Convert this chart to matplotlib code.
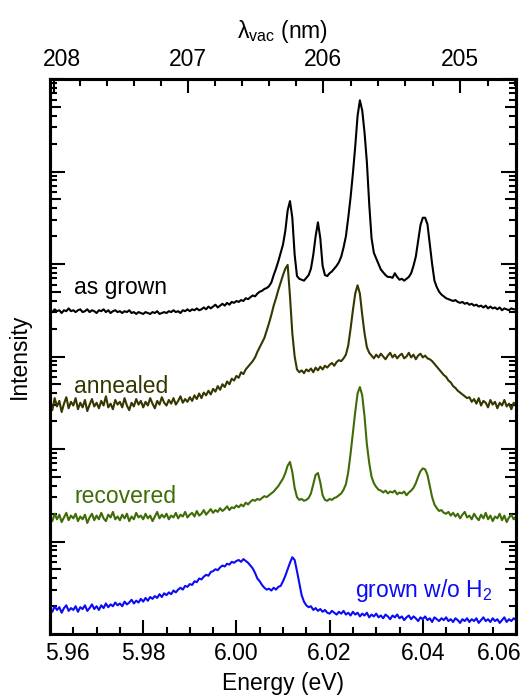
import numpy as np
import matplotlib
matplotlib.use("Agg")
import matplotlib.pyplot as plt
import matplotlib.transforms as mtransforms
from matplotlib.ticker import (FixedLocator, LogLocator, MultipleLocator,
                               NullFormatter, NullLocator)

plt.rcParams['font.family'] = ['Liberation Sans', 'DejaVu Sans']
plt.rcParams['font.size'] = 16.5
plt.rcParams['mathtext.fontset'] = 'custom'
plt.rcParams['mathtext.rm'] = 'Liberation Sans'

# energy grid of the spectra (eV)
energy = np.round(np.linspace(5.960, 6.060, 201), 4)

# log10 of the intensity (spectra are offset by decades)
as_grown = [
    3.50, 3.48, 3.51, 3.49, 3.50, 3.47, 3.50, 3.49, 3.52, 3.49,
    3.50, 3.48, 3.50, 3.51, 3.48, 3.49, 3.51, 3.48, 3.50, 3.49,
    3.47, 3.50, 3.49, 3.51, 3.48, 3.50, 3.47, 3.49, 3.50, 3.48,
    3.49, 3.47, 3.49, 3.48, 3.50, 3.47, 3.48, 3.46, 3.48, 3.47,
    3.46, 3.48, 3.47, 3.46, 3.48, 3.47, 3.49, 3.46, 3.47, 3.48,
    3.47, 3.49, 3.48, 3.50, 3.48, 3.49, 3.47, 3.50, 3.49, 3.51,
    3.49, 3.51, 3.50, 3.52, 3.50, 3.51, 3.53, 3.51, 3.54, 3.52,
    3.54, 3.56, 3.53, 3.55, 3.57, 3.55, 3.58, 3.56, 3.59, 3.58,
    3.60, 3.59, 3.61, 3.60, 3.63, 3.62, 3.64, 3.66, 3.65, 3.68,
    3.70, 3.71, 3.73, 3.74, 3.76, 3.80, 3.88, 3.95, 4.03, 4.12,
    4.21, 4.36, 4.58, 4.68, 4.50, 4.10, 3.87, 3.84, 3.83, 3.82,
    3.85, 3.88, 3.95, 4.10, 4.30, 4.45, 4.28, 3.98, 3.88, 3.87,
    3.90, 3.92, 3.95, 3.98, 4.02, 4.08, 4.18, 4.30, 4.50, 4.72,
    4.98, 5.27, 5.60, 5.77, 5.66, 5.42, 5.10, 4.65, 4.28, 4.12,
    4.06, 4.00, 3.94, 3.91, 3.88, 3.86, 3.86, 3.85, 3.90, 3.86,
    3.83, 3.84, 3.82, 3.84, 3.86, 3.90, 3.98, 4.08, 4.25, 4.42,
    4.50, 4.50, 4.43, 4.22, 4.00, 3.82, 3.75, 3.70, 3.67, 3.65,
    3.63, 3.62, 3.61, 3.60, 3.61, 3.59, 3.58, 3.59, 3.57, 3.58,
    3.56, 3.57, 3.55, 3.56, 3.54, 3.55, 3.53, 3.55, 3.52, 3.54,
    3.52, 3.53, 3.51, 3.53, 3.50, 3.52, 3.51, 3.50, 3.52, 3.51,
    3.51,
]

annealed = [
    2.50, 2.42, 2.55, 2.46, 2.52, 2.40, 2.49, 2.56, 2.44, 2.51,
    2.47, 2.55, 2.43, 2.50, 2.45, 2.53, 2.41, 2.48, 2.54, 2.46,
    2.50, 2.44, 2.52, 2.47, 2.57, 2.45, 2.49, 2.43, 2.53, 2.48,
    2.51, 2.45, 2.55, 2.47, 2.42, 2.50, 2.46, 2.54, 2.48, 2.52,
    2.45, 2.51, 2.47, 2.55, 2.49, 2.44, 2.52, 2.48, 2.56, 2.50,
    2.47, 2.53, 2.49, 2.55, 2.48, 2.52, 2.57, 2.50, 2.54, 2.51,
    2.56, 2.52, 2.58, 2.54, 2.60, 2.55, 2.61, 2.58, 2.63, 2.59,
    2.65, 2.62, 2.68, 2.64, 2.70, 2.67, 2.73, 2.70, 2.76, 2.74,
    2.79, 2.77, 2.83, 2.81, 2.86, 2.89, 2.92, 2.95, 2.99, 3.05,
    3.10, 3.15, 3.20, 3.28, 3.36, 3.45, 3.55, 3.63, 3.72, 3.80,
    3.88, 3.95, 3.99, 3.65, 3.25, 3.00, 2.86, 2.83, 2.85, 2.82,
    2.86, 2.84, 2.87, 2.83, 2.88, 2.85, 2.89, 2.86, 2.90, 2.88,
    2.91, 2.93, 2.90, 2.94, 2.96, 2.95, 2.98, 3.02, 3.12, 3.30,
    3.50, 3.68, 3.77, 3.68, 3.45, 3.25, 3.10, 3.04, 3.01, 2.98,
    3.02, 2.99, 3.03, 3.00, 2.97, 3.01, 3.04, 2.99, 3.02, 2.98,
    3.01, 3.03, 2.98, 3.00, 3.04, 2.99, 3.02, 2.97, 3.01, 3.03,
    2.99, 3.01, 2.98, 2.97, 2.95, 2.92, 2.89, 2.86, 2.83, 2.80,
    2.78, 2.74, 2.72, 2.68, 2.66, 2.63, 2.61, 2.59, 2.57, 2.55,
    2.56, 2.51, 2.54, 2.49, 2.55, 2.47, 2.52, 2.50, 2.45, 2.53,
    2.48, 2.51, 2.44, 2.50, 2.47, 2.53, 2.46, 2.49, 2.43, 2.50,
    2.47,
]

recovered = [
    1.27, 1.22, 1.30, 1.24, 1.29, 1.21, 1.26, 1.31, 1.23, 1.28,
    1.25, 1.30, 1.22, 1.27, 1.24, 1.29, 1.20, 1.26, 1.30, 1.23,
    1.28, 1.24, 1.31, 1.25, 1.22, 1.29, 1.26, 1.32, 1.24, 1.27,
    1.23, 1.29, 1.25, 1.30, 1.22, 1.27, 1.24, 1.31, 1.26, 1.28,
    1.24, 1.30, 1.25, 1.28, 1.22, 1.27, 1.32, 1.25, 1.29, 1.26,
    1.30, 1.24, 1.28, 1.26, 1.31, 1.25, 1.29, 1.27, 1.32, 1.26,
    1.29, 1.31, 1.27, 1.33, 1.28, 1.30, 1.34, 1.29, 1.32, 1.35,
    1.31, 1.34, 1.32, 1.36, 1.33, 1.35, 1.38, 1.34, 1.37, 1.36,
    1.39, 1.37, 1.40, 1.38, 1.42, 1.40, 1.43, 1.45, 1.44, 1.46,
    1.45, 1.47, 1.49, 1.48, 1.50, 1.52, 1.54, 1.57, 1.60, 1.64,
    1.68, 1.74, 1.82, 1.86, 1.75, 1.58, 1.48, 1.45, 1.46, 1.44,
    1.45, 1.47, 1.52, 1.62, 1.72, 1.74, 1.64, 1.50, 1.45, 1.44,
    1.46, 1.45, 1.47, 1.48, 1.50, 1.52, 1.56, 1.62, 1.75, 1.95,
    2.18, 2.40, 2.60, 2.67, 2.58, 2.35, 2.05, 1.85, 1.70, 1.63,
    1.59, 1.56, 1.55, 1.53, 1.55, 1.52, 1.54, 1.53, 1.55, 1.51,
    1.53, 1.52, 1.54, 1.50, 1.53, 1.55, 1.58, 1.63, 1.70, 1.76,
    1.79, 1.78, 1.72, 1.60, 1.48, 1.40, 1.36, 1.33, 1.34, 1.31,
    1.30, 1.32, 1.28, 1.31, 1.27, 1.30, 1.25, 1.29, 1.32, 1.26,
    1.28, 1.24, 1.30, 1.26, 1.23, 1.29, 1.25, 1.31, 1.24, 1.28,
    1.22, 1.27, 1.25, 1.30, 1.23, 1.28, 1.21, 1.26, 1.29, 1.24,
    1.27,
]

grown_no_h2 = [
    0.27, 0.24, 0.30, 0.26, 0.29, 0.23, 0.28, 0.31, 0.25, 0.28,
    0.26, 0.30, 0.24, 0.29, 0.27, 0.31, 0.25, 0.28, 0.32, 0.27,
    0.30, 0.26, 0.31, 0.28, 0.33, 0.29, 0.32, 0.30, 0.34, 0.31,
    0.33, 0.30, 0.35, 0.32, 0.34, 0.37, 0.33, 0.36, 0.34, 0.38,
    0.35, 0.39, 0.36, 0.40, 0.38, 0.41, 0.39, 0.43, 0.40, 0.44,
    0.42, 0.45, 0.43, 0.47, 0.45, 0.48, 0.50, 0.48, 0.52, 0.51,
    0.54, 0.53, 0.57, 0.56, 0.60, 0.59, 0.62, 0.64, 0.63, 0.67,
    0.68, 0.70, 0.69, 0.72, 0.74, 0.73, 0.76, 0.75, 0.78, 0.77,
    0.79, 0.80, 0.78, 0.81, 0.79, 0.77, 0.74, 0.71, 0.66, 0.60,
    0.57, 0.53, 0.50, 0.48, 0.49, 0.47, 0.50, 0.48, 0.51, 0.52,
    0.57, 0.63, 0.70, 0.77, 0.83, 0.80, 0.68, 0.55, 0.42, 0.35,
    0.31, 0.29, 0.30, 0.26, 0.28, 0.25, 0.27, 0.24, 0.26, 0.23,
    0.22, 0.25, 0.23, 0.21, 0.24, 0.22, 0.25, 0.21, 0.23, 0.20,
    0.24, 0.21, 0.23, 0.19, 0.22, 0.20, 0.23, 0.18, 0.21, 0.19,
    0.22, 0.18, 0.20, 0.17, 0.21, 0.19, 0.16, 0.20, 0.18, 0.21,
    0.17, 0.19, 0.15, 0.18, 0.20, 0.16, 0.19, 0.17, 0.14, 0.18,
    0.16, 0.19, 0.15, 0.17, 0.13, 0.18, 0.16, 0.14, 0.17, 0.15,
    0.18, 0.14, 0.16, 0.13, 0.17, 0.15, 0.12, 0.16, 0.14, 0.17,
    0.13, 0.16, 0.14, 0.17, 0.12, 0.15, 0.18, 0.14, 0.16, 0.13,
    0.17, 0.14, 0.16, 0.12, 0.15, 0.18, 0.13, 0.16, 0.14, 0.17,
    0.15,
]

series = [as_grown, annealed, recovered, grown_no_h2]
names = ["as grown", "annealed", "recovered", r"grown w/o H$_\mathregular{2}$"]
colors = ["#000000", "#363600", "#3f6c06", "#0b0bf5"]

x_ticks = [5.96, 5.98, 6.00, 6.02, 6.04, 6.06]
nm_ticks = [208, 207, 206, 205]


def ev_to_nm(e):
    e = np.asarray(e, dtype=float)
    with np.errstate(divide="ignore"):
        return 1239.842 / e


fig = plt.figure(figsize=(5.25, 6.96), dpi=100)
ax = fig.add_axes([50 / 525, 62 / 696, 466 / 525, 555 / 696])

for vals, col in zip(series, colors):
    ax.plot(energy, 10 ** np.array(vals), color=col, lw=1.5)

# labels next to each spectrum: (x, log10 y)
label_pos = [(5.9652, 3.68), (5.9652, 2.61), (5.9652, 1.42), (6.0255, 0.40)]
for name, col, (lx, ly) in zip(names, colors, label_pos):
    ax.text(lx, 10 ** ly, name, color=col, ha="left", va="baseline")

ax.set_xlim(5.96, 6.06)
ax.set_yscale("log")
ax.set_ylim(1, 1e6)

for s in ax.spines.values():
    s.set_linewidth(2.2)

# bottom axis
ax.set_xticks(x_ticks)
ax.set_xticklabels([f"{v:.2f}" for v in x_ticks])
ax.xaxis.set_minor_locator(MultipleLocator(0.005))
ax.tick_params(axis="x", which="major", direction="in", length=10, width=1.5,
               top=False, pad=6)
ax.tick_params(axis="x", which="minor", direction="in", length=5, width=1.5,
               top=False)

# left/right log ticks, no labels
ax.yaxis.set_major_locator(LogLocator(base=10, numticks=12))
ax.yaxis.set_minor_locator(LogLocator(base=10, subs=(2, 3, 4, 6, 7, 8, 9), numticks=12))
ax.yaxis.set_major_formatter(NullFormatter())
ax.yaxis.set_minor_formatter(NullFormatter())
ax.tick_params(axis="y", which="major", direction="in", length=11, width=1.5,
               left=True, right=True)
ax.tick_params(axis="y", which="minor", direction="in", length=5, width=1.5,
               left=True, right=True)

# medium ticks at 5 x 10^n on both sides
for side in ("left", "right"):
    sec = ax.secondary_yaxis(side)
    sec.yaxis.set_major_locator(FixedLocator([5, 50, 500, 5e3, 5e4, 5e5]))
    sec.yaxis.set_minor_locator(NullLocator())
    sec.yaxis.set_major_formatter(NullFormatter())
    sec.tick_params(axis="y", direction="in", length=8, width=1.5)
    sec.spines[side].set_linewidth(2.2)

# top axis in vacuum wavelength
secx = ax.secondary_xaxis("top", functions=(ev_to_nm, ev_to_nm))
secx.set_xticks(nm_ticks)
secx.set_xticklabels([str(v) for v in nm_ticks])
secx.xaxis.set_minor_locator(MultipleLocator(0.2))
secx.tick_params(which="major", direction="in", length=10, width=1.5, pad=6)
secx.tick_params(which="minor", direction="in", length=5, width=1.5)
secx.spines["top"].set_linewidth(2.2)
secx.set_xlabel(r"λ$_\mathregular{vac}$ (nm)", labelpad=7)

ax.set_xlabel("Energy (eV)")
ax.xaxis.set_label_coords(0.5, -0.068)
ax.set_ylabel("Intensity")
ax.yaxis.set_label_coords(-0.04, 0.5)

# keep the edge tick labels inside the frame
xl = ax.get_xticklabels()
xl[0].set_ha("left")
xl[0].set_transform(xl[0].get_transform()
                    + mtransforms.ScaledTranslation(-0.05, 0, fig.dpi_scale_trans))
xl[-1].set_ha("right")
xl[-1].set_transform(xl[-1].get_transform()
                     + mtransforms.ScaledTranslation(0.06, 0, fig.dpi_scale_trans))
for lbl in secx.get_xticklabels():
    if lbl.get_text() == "208":
        lbl.set_ha("left")
        lbl.set_transform(lbl.get_transform()
                          + mtransforms.ScaledTranslation(-0.107, 0, fig.dpi_scale_trans))

fig.savefig("out.png", dpi=100)
